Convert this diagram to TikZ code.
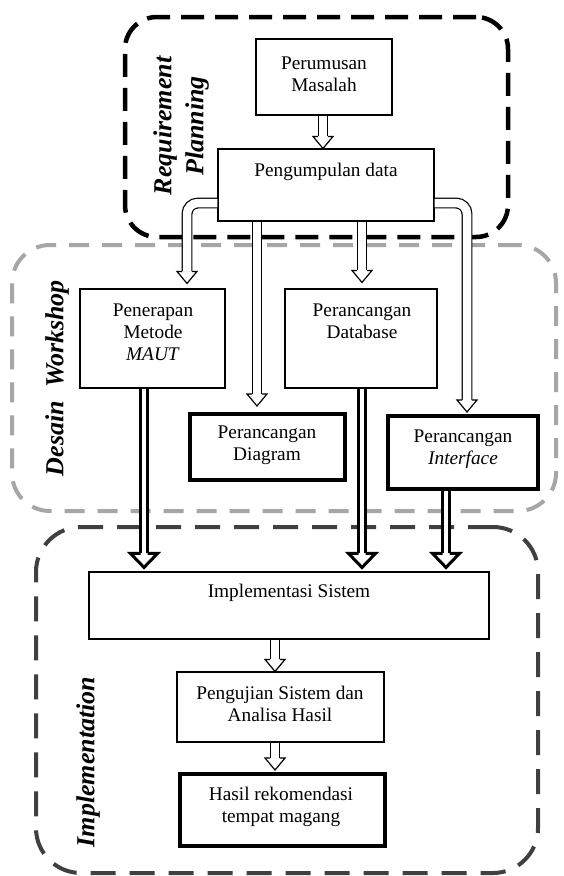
\documentclass[tikz,border=0pt]{standalone}
\usepackage{fontspec}
\setmainfont{Liberation Serif}
\usetikzlibrary{calc}
\definecolor{dwgray}{HTML}{A6A6A6}
\definecolor{imgray}{HTML}{404040}
\tikzset{
  box/.style={draw, line width=1.1pt, inner sep=0pt},
  thickbox/.style={draw, line width=4pt, inner sep=0pt},
  txt/.style={inner sep=0pt, align=center, font=\fontsize{19.3}{22}\selectfont},
  phase/.style={inner sep=0pt, align=center, rotate=90, font=\fontsize{26}{32}\selectfont\bfseries\itshape},
  frameRP/.style={draw=black, line width=4.5pt, dash pattern=on 23pt off 11pt, rounded corners=32pt, inner sep=0pt},
  frameDW/.style={draw=dwgray, line width=4pt, dash pattern=on 20pt off 13pt, rounded corners=38pt, inner sep=0pt},
  frameIM/.style={draw=imgray, line width=4pt, dash pattern=on 25pt off 14pt, rounded corners=45pt, inner sep=0pt},
  hshaft/.style={line width=1.2pt, double=white, double distance=8.5pt},
  tshaft/.style={line width=3pt, double=white, double distance=4pt},
}
% #1 tip, #2 half shaft (line centre), #3 half head, #4 head length, #5 line width
\newcommand{\ArrowHead}[5]{%
  \filldraw[fill=white, line width=#5, line join=miter]
    ($(#1)+(-#2,-#4)$) -- ($(#1)+(-#3,-#4)$) -- (#1) -- ($(#1)+(#3,-#4)$) -- ($(#1)+(#2,-#4)$);}
\newcommand{\HHead}[1]{\ArrowHead{#1}{4.85}{10}{12}{1.2pt}}
\newcommand{\THead}[1]{\ArrowHead{#1}{3.5}{13.5}{14}{3pt}}
\begin{document}
\begin{tikzpicture}[x=1pt,y=-1pt]
\fill[white] (0,0) rectangle (563,876);
\useasboundingbox (0,0) rectangle (563,876);

% phase frames
\node[frameDW, minimum width=544pt, minimum height=266pt] (dw) at (284,378) {};
\node[frameIM, minimum width=502pt, minimum height=346pt] (im) at (287,700) {};
\node[frameRP, minimum width=383pt, minimum height=220pt] (rp) at (316.5,127) {};

% phase labels
\node[phase] (rpl) at (181,126) {Requirement\\Planning};
\node[phase] (dwl) at (57,378) {Desain\ \ Workshop};
\node[phase] (iml) at (88,762) {Implementation};

% boxes
\node[box, minimum width=136pt, minimum height=76pt] (pm) at (324,77) {};
\node[box, minimum width=216pt, minimum height=72pt] (pg) at (326,185) {};
\node[box, minimum width=145pt, minimum height=99pt] (pen) at (152.5,338.5) {};
\node[box, minimum width=152pt, minimum height=99pt] (db) at (361,338.5) {};
\node[thickbox, minimum width=155pt, minimum height=66pt] (dg) at (267.5,447) {};
\node[thickbox, minimum width=150pt, minimum height=73pt] (itf) at (463,452.5) {};
\node[box, minimum width=400pt, minimum height=67pt] (impl) at (289,605.5) {};
\node[box, minimum width=207pt, minimum height=70pt] (uji) at (280.5,707) {};
\node[thickbox, minimum width=205pt, minimum height=72pt] (hasil) at (282.5,810) {};

% texts
\node[txt] (pmt) at (324,74.5) {Perumusan\\Masalah};
\node[txt] (pgt) at (326,172) {Pengumpulan data};
\node[txt] (pent) at (153,332) {Penerapan\\Metode\\\textit{MAUT}};
\node[txt] (dbt) at (362,321) {Perancangan\\Database};
\node[txt] (dgt) at (267,445.5) {Perancangan\\Diagram};
\node[txt] (itft) at (463,449) {Perancangan\\\textit{Interface}};
\node[txt] (implt) at (289,593) {Implementasi Sistem};
\node[txt] (ujit) at (280,704) {Pengujian Sistem dan\\Analisa Hasil};
\node[txt] (hasilt) at (281,806.5) {Hasil rekomendasi\\tempat magang};

% connector coordinates
\coordinate (t1) at ($(pg.north)+(-3,0)$);
\coordinate (s2) at ($(pg.west)+(0,18)$);
\coordinate (t2) at ($(pen.north)+(34.5,-5)$);
\coordinate (t3) at ($(dg.north)+(-10.5,-6)$);
\coordinate (t4) at ($(db.north)+(1,-6)$);
\coordinate (s5) at ($(pg.east)+(0,18)$);
\coordinate (t5) at ($(itf.north)+(4,-2)$);
\coordinate (s6) at ($(pen.south)+(-8.5,0)$);
\coordinate (t6) at ($(s6 |- impl.north)+(0,-4)$);
\coordinate (s7) at ($(db.south)+(1,0)$);
\coordinate (t7) at ($(s7 |- impl.north)+(0,-4)$);
\coordinate (s8) at ($(itf.south)+(-17,0)$);
\coordinate (t8) at ($(s8 |- impl.north)+(0,-4)$);
\coordinate (s9) at ($(impl.south)+(-14,0)$);
\coordinate (t9) at (s9 |- uji.north);
\coordinate (s10) at ($(uji.south)+(-5.5,0)$);
\coordinate (t10) at ($(s10 |- hasil.north)+(0,-2)$);

% hollow arrows
\draw[hshaft] (pm.south -| t1) -- ($(t1)+(0,-12)$); \HHead{t1}
\draw[hshaft, rounded corners=11pt] (s2) -| ($(t2)+(0,-12)$); \HHead{t2}
\draw[hshaft] (pg.south -| t3) -- ($(t3)+(0,-12)$); \HHead{t3}
\draw[hshaft] (pg.south -| t4) -- ($(t4)+(0,-12)$); \HHead{t4}
\draw[hshaft, rounded corners=11pt] (s5) -| ($(t5)+(0,-12)$); \HHead{t5}
\draw[hshaft] (s9) -- ($(t9)+(0,-12)$); \HHead{t9}
\draw[hshaft] (s10) -- ($(t10)+(0,-12)$); \HHead{t10}

% thick arrows
\draw[tshaft] (s6) -- ($(t6)+(0,-14)$); \THead{t6}
\draw[tshaft] (s7) -- ($(t7)+(0,-14)$); \THead{t7}
\draw[tshaft] (s8) -- ($(t8)+(0,-14)$); \THead{t8}
\end{tikzpicture}
\end{document}
